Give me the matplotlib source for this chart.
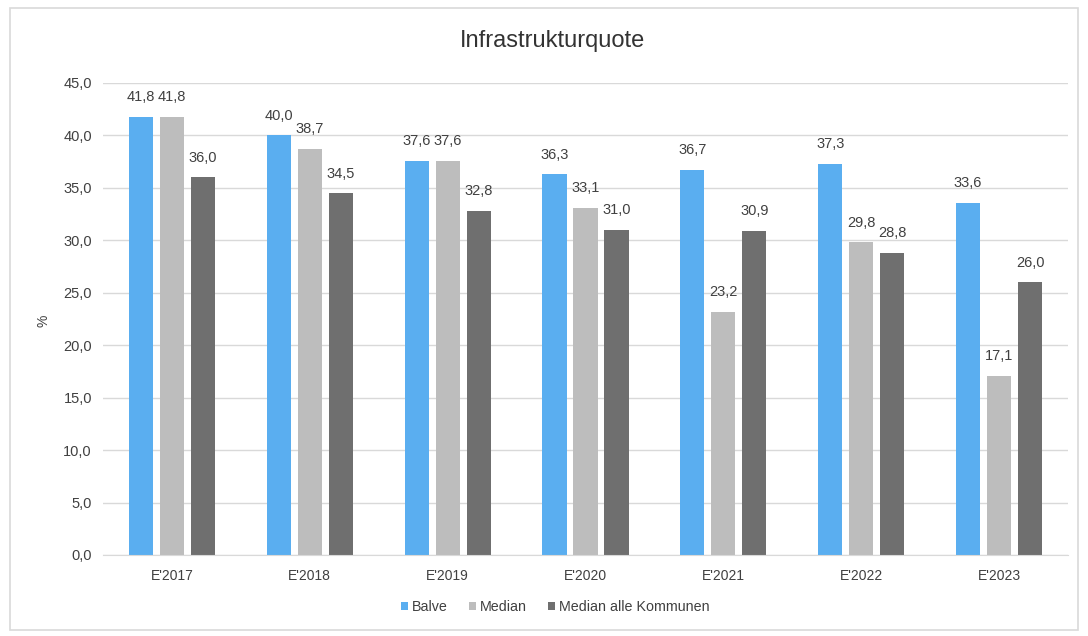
import matplotlib.pyplot as plt
from matplotlib.patches import Rectangle
import numpy as np

jahre = ["E'2017", "E'2018", "E'2019", "E'2020", "E'2021", "E'2022", "E'2023"]
balve = [41.8, 40.0, 37.6, 36.3, 36.7, 37.3, 33.6]
median = [41.8, 38.7, 37.6, 33.1, 23.2, 29.8, 17.1]
median_alle = [36.0, 34.5, 32.8, 31.0, 30.9, 28.8, 26.0]

plt.rcParams['font.family'] = ['Liberation Sans', 'DejaVu Sans']

fig = plt.figure(figsize=(10.88, 6.36), dpi=100)
fig.patches.append(Rectangle((10/1088, 6/636), 1068/1088, 622/636, transform=fig.transFigure,
                             fill=False, edgecolor='#d9d9d9', linewidth=1.2))
ax = fig.add_axes([103/1088, 1 - 555/636, 965/1088, 472/636])

x = np.arange(len(jahre))
w = 0.175
off = 0.225
serien = [(balve, '#5aaef0', 'Balve'), (median, '#bdbdbd', 'Median'),
          (median_alle, '#6f6f6f', 'Median alle Kommunen')]
for i, (werte, farbe, name) in enumerate(serien):
    bars = ax.bar(x + (i - 1) * off, werte, w, color=farbe, label=name, zorder=2)
    for b, v in zip(bars, werte):
        ax.text(b.get_x() + b.get_width() / 2, v + 1.2, f"{v:.1f}".replace('.', ','),
                ha='center', va='bottom', fontsize=10.5, color='#404040')

ax.set_xlim(-0.5, len(jahre) - 0.5)
ax.set_ylim(0, 45)
ax.set_yticks(np.arange(0, 46, 5))
ax.set_yticklabels([f"{t:.1f}".replace('.', ',') for t in np.arange(0, 46, 5)])
ax.set_xticks(x)
ax.set_xticklabels(jahre)
ax.tick_params(length=0, colors='#404040')
ax.tick_params(axis='x', labelsize=10, pad=10)
ax.tick_params(axis='y', labelsize=10.5, pad=8)
ax.grid(axis='y', color='#d9d9d9', linewidth=1, zorder=0)
for s in ['top', 'right', 'left']:
    ax.spines[s].set_visible(False)
ax.spines['bottom'].set_color('#d9d9d9')

fig.text(44/1088, 1 - 321/636, '%', rotation=90, fontsize=10, ha='center', va='center', color='#404040')
fig.text(552/1088, 1 - 41/636, 'Infrastrukturquote', fontsize=17, ha='center', va='center', color='#333333')

fig.legend(loc='center', bbox_to_anchor=(555/1088, 1 - 607/636), ncol=3, frameon=False,
           fontsize=10.3, handlelength=0.5, handleheight=0.5, handletextpad=0.25, columnspacing=1.5,
           labelcolor='#404040')

plt.savefig('out.png', dpi=100)
